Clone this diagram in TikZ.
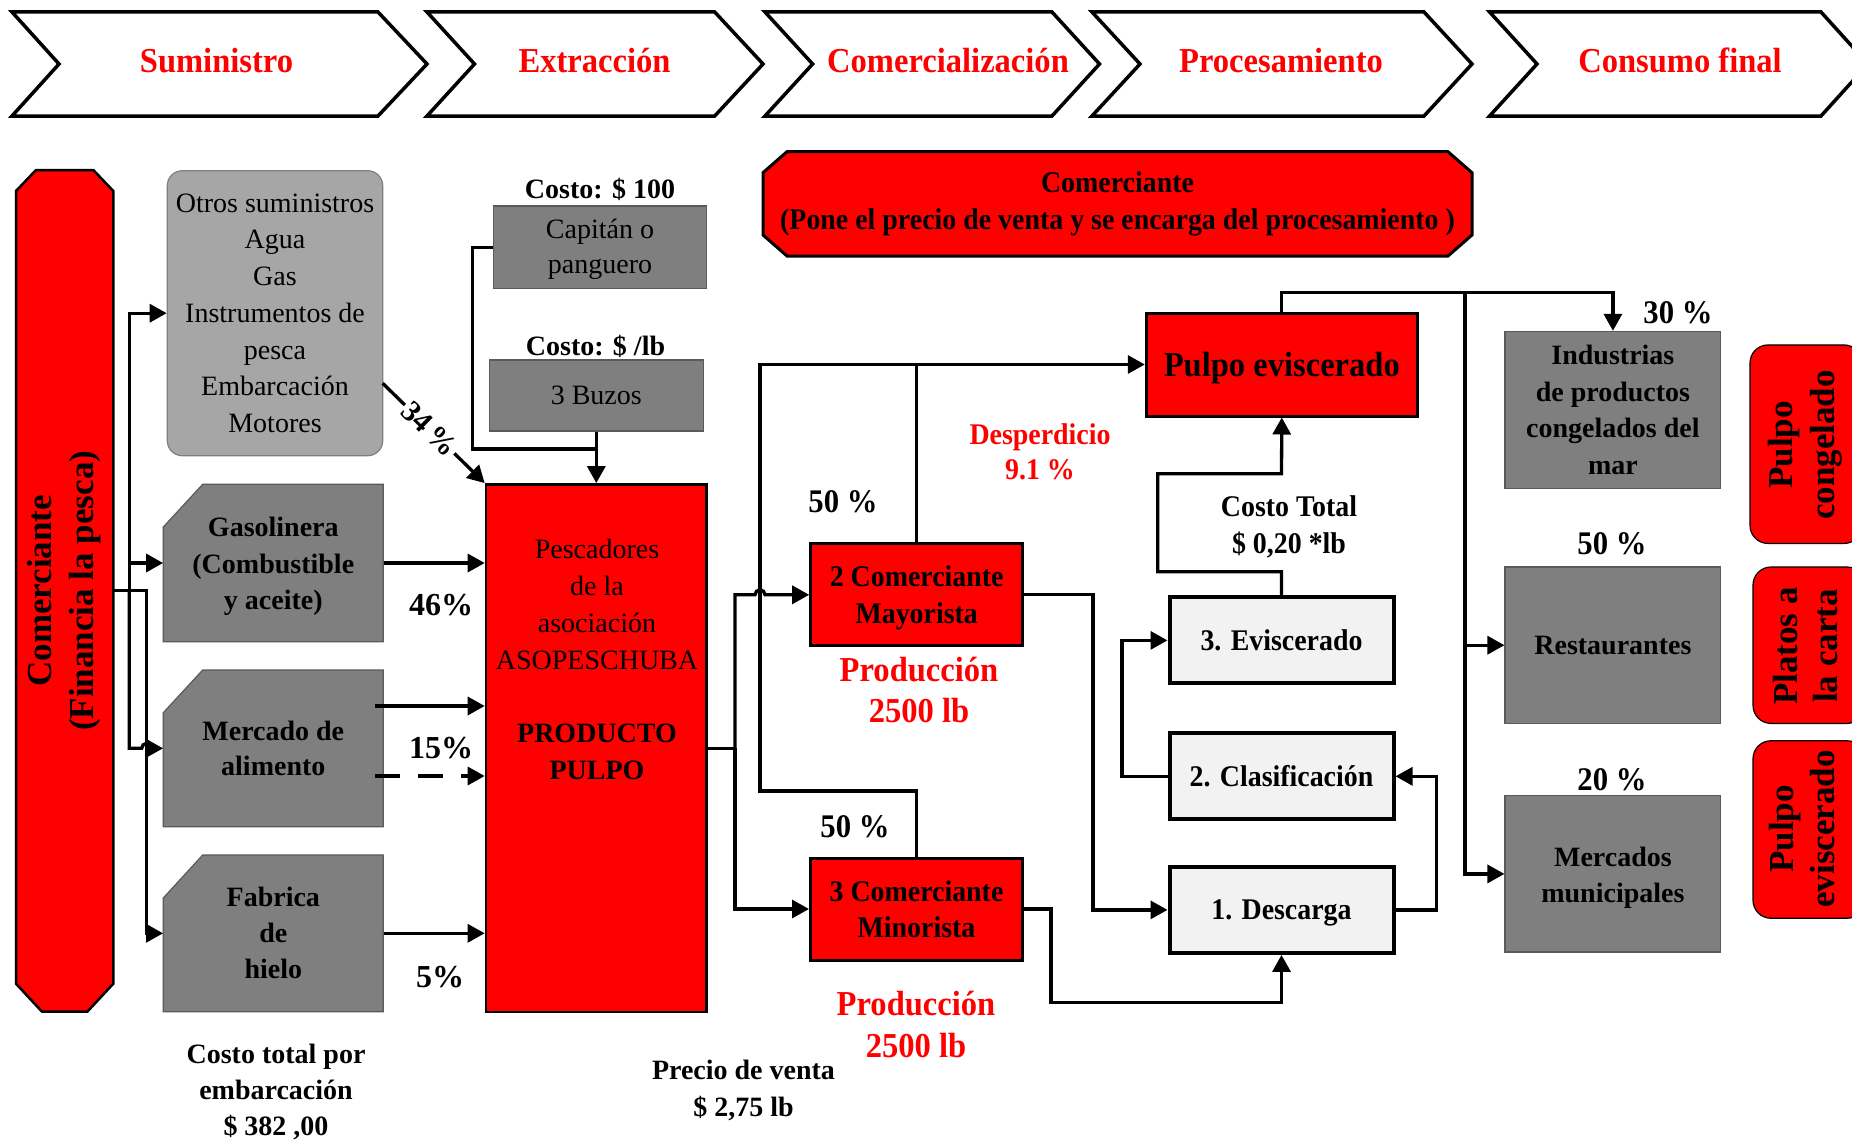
\documentclass[tikz,border=0pt]{standalone}
\usepackage{fontspec}
\setmainfont{Liberation Serif}
\newfontfamily\cnd[FakeStretch=0.93]{Liberation Serif}
\usetikzlibrary{arrows.meta}
\definecolor{dgray}{HTML}{7F7F7F}
\definecolor{lgray}{HTML}{A6A6A6}
\definecolor{pgray}{HTML}{F2F2F2}
\definecolor{rd}{HTML}{FF0000}
\definecolor{bgray}{HTML}{5A5A5A}
\newcommand\fsz[2]{\fontsize{#1pt}{#2pt}\selectfont}
\begin{document}
\begin{tikzpicture}[x=1pt,y=-1pt,
  ln/.style={line width=3.3pt},
  ar/.style={line width=3.3pt,-{Triangle[length=17pt,width=18pt]}},
  chev/.style={draw=black,line width=3.5pt,fill=white},
  gbox/.style={fill=dgray,draw=bgray,line width=1.2pt,inner sep=0pt},
  anchorbox/.style={inner sep=0pt,draw=none},
  rbox/.style={fill=rd,draw=black,line width=3pt,inner sep=0pt},
  pbox/.style={fill=pgray,draw=black,line width=4pt,inner sep=0pt},
  tx/.style={align=center,inner sep=0pt},
  chl/.style={tx,text=rd,font=\cnd\bfseries\fsz{35}{40},anchor=base},
  bt/.style={tx,font=\bfseries\fsz{28}{36.7}},
  rt/.style={tx,font=\fsz{28}{36.7}},
  ct/.style={tx,font=\cnd\bfseries\fsz{30}{36.5}},
  pct/.style={tx,font=\bfseries\fsz{32}{36}},
  cpct/.style={tx,font=\cnd\bfseries\fsz{33}{33}},
  redtx/.style={tx,text=rd,font=\cnd\bfseries\fsz{35}{40.5}},
  sidebox/.style={fill=rd,draw=black,line width=1.2pt,rounded corners=18pt,minimum width=112pt,inner sep=0pt},
  sidetx/.style={tx,rotate=90,font=\bfseries\fsz{35}{41}}
]
\useasboundingbox (0,0) rectangle (1852,1140);
\fill[white] (0,0) rectangle (1852,1140);

% ---------- top chevrons ----------
\draw[chev] (12,12) -- (378,12) -- (427,64) -- (378,116) -- (12,116) -- (59,64) -- cycle;
\draw[chev] (427,12) -- (714.7,12) -- (763,64) -- (714.7,116) -- (427,116) -- (474.5,64) -- cycle;
\draw[chev] (765,12) -- (1052,12) -- (1099.5,64) -- (1052,116) -- (765,116) -- (812.6,64) -- cycle;
\draw[chev] (1092,12) -- (1424,12) -- (1472,64) -- (1424,116) -- (1092,116) -- (1140,64) -- cycle;
\draw[chev] (1489.6,12) -- (1821,12) -- (1868,64) -- (1821,116) -- (1489.6,116) -- (1537,64) -- cycle;
\node[chl] (ch1) at (216.5,73) {Suministro};
\node[chl] (ch2) at (594.5,73) {Extracción};
\node[chl] (ch3) at (948,73) {Comercialización};
\node[chl] (ch4) at (1281,73) {Procesamiento};
\node[chl] (ch5) at (1680,73) {Consumo final};

% ---------- left column ----------
\draw[fill=rd,line width=2.5pt] (36,170) -- (93.3,170) -- (113.3,191) -- (113.3,983.7) -- (87.3,1011.7) -- (42,1011.7) -- (16,983.7) -- (16,191) -- cycle;
\node[anchorbox,minimum width=97.3pt,minimum height=841.7pt] (com) at (64.7,590.8) {};
\node[tx,rotate=90,font=\bfseries\fsz{35}{41.5}] (comtxt) at (64,590.8) {Comerciante\\(Financia la pesca)};

\node[fill=lgray,draw=dgray,line width=1.2pt,rounded corners=15pt,minimum width=215.4pt,minimum height=285pt,rt] (otros) at (275,313.2) {Otros suministros\\Agua\\Gas\\Instrumentos de\\pesca\\Embarcación\\Motores};

\draw[gbox] (202.7,484.3) -- (383.3,484.3) -- (383.3,641.7) -- (163.3,641.7) -- (163.3,527) -- cycle;
\node[anchorbox,minimum width=220pt,minimum height=157.4pt] (gas) at (273.3,563) {};
\node[bt] (gastxt) at (273.3,566.5) {Gasolinera\\(Combustible\\y aceite)};
\draw[gbox] (202.7,670) -- (383.3,670) -- (383.3,826.7) -- (163.3,826.7) -- (163.3,712.7) -- cycle;
\node[anchorbox,minimum width=220pt,minimum height=156.7pt,bt,font=\bfseries\fsz{28}{35}] (mer) at (273.3,748.3) {Mercado de\\alimento};
\draw[gbox] (202.7,855) -- (383.3,855) -- (383.3,1011.7) -- (163.3,1011.7) -- (163.3,898) -- cycle;
\node[anchorbox,minimum width=220pt,minimum height=156.7pt,bt,font=\bfseries\fsz{28}{36}] (fab) at (273.3,933.3) {Fabrica\\de\\hielo};

\node[bt,font=\bfseries\fsz{28}{36}] (ctot) at (276,1091.5) {Costo total por\\embarcación\\\$ 382 ,00};

% ---------- extraction ----------
\node[gbox,minimum width=213.4pt,minimum height=82.3pt] (cap) at (600,247.2) {};
\node[rt,font=\fsz{28}{35}] (captxt) at (600,249.5) {Capitán o\\panguero};
\node[bt] (c100) at (600,189) {Costo: \$ 100};
\node[gbox,minimum width=214pt,minimum height=71pt,rt] (buz) at (596.3,395.5) {3 Buzos};
\node[bt] (clb) at (595.5,346) {Costo: \$ /lb};

\node[fill=rd,draw=black,line width=2.5pt,minimum width=220.7pt,minimum height=527.7pt,inner sep=0pt] (pesc) at (596.3,748.2) {};
\node[tx,font=\fsz{28}{36.7}] (pesctxt) at (597,659.5) {Pescadores\\de la\\asociación\\ASOPESCHUBA\\[36.7pt]{\bfseries PRODUCTO}\\{\bfseries PULPO}};

\node[pct] (p46) at (441,605) {46\%};
\node[pct] (p15) at (441,748) {15\%};
\node[pct] (p5) at (440,977) {5\%};

% left connectors
\coordinate (jl) at (129.3,590.8);
\draw[ar] (com.east) -| (146.7,933.3) -- (fab.west);
\draw[ar] (jl) |- (otros.west);
\draw[ar] (jl) |- (gas.west);
\draw[ar] (jl) -- (129.3,748.3) -- (141.7,748.3) arc[start angle=180,end angle=0,radius=5pt] -- (mer.west);

\draw[ar] (gas.east) -- (gas.east -| pesc.west);
\coordinate (m1) at (375,706);
\draw[ar] (m1) -- (m1 -| pesc.west);
\coordinate (m2) at (375,776);
\draw[ar,dash pattern=on 25pt off 18pt] (m2) -- (m2 -| pesc.west);
\draw[ar] (fab.east) -- (fab.east -| pesc.west);
\coordinate (o1) at (382.7,383.3);
\draw[ar] (o1) -- node[sloped,fill=white,inner sep=2pt,font=\bfseries\fsz{30}{30},pos=0.46] (p34) {34\,\%} (pesc.north west);

\draw[ln] (cap.west) -- (472.7,247.2) -- (472.7,449) -- (596.3,449);
\draw[ar] (buz.south) -- (pesc.north);

% ---------- commercialisation ----------
\node[rbox,minimum width=212pt,minimum height=102pt] (may) at (916.7,594.8) {};
\node[ct] (maytxt) at (916.7,597.8) {2 Comerciante\\Mayorista};
\node[rbox,minimum width=212pt,minimum height=102pt,ct] (min) at (916.5,909) {3 Comerciante\\Minorista};
\node[redtx] (prod1) at (919,690) {Producción\\2500 lb};
\node[redtx,font=\cnd\bfseries\fsz{35}{42}] (prod2) at (916,1024) {Producción\\2500 lb};
\node[cpct] (p50a) at (843,502) {50 \%};
\node[cpct] (p50b) at (855,827) {50 \%};
\node[bt] (prec) at (743.5,1090.5) {Precio de venta\\\$ 2,75 lb};

\draw[fill=rd,line width=3pt] (787,151.7) -- (1448,151.7) -- (1472,172.7) -- (1472,235) -- (1448,256) -- (787,256) -- (763,235) -- (763,172.7) -- cycle;
\node[anchorbox,minimum width=709pt,minimum height=104.3pt,ct] (topc) at (1117.5,203.8) {Comerciante\\(Pone el precio de venta y se encarga del procesamiento )};

% ---------- processing ----------
\node[rbox,minimum width=271pt,minimum height=103pt] (pe) at (1281.8,364.5) {};
\node[tx,font=\cnd\bfseries\fsz{35}{35}] (petxt) at (1281.8,368) {Pulpo eviscerado};
\node[pbox,minimum width=224pt,minimum height=86pt,ct] (evi) at (1281.5,640.4) {3. Eviscerado};
\node[pbox,minimum width=224pt,minimum height=86pt,ct] (cla) at (1281.5,776.3) {2. Clasificación};
\node[pbox,minimum width=224pt,minimum height=86pt] (des) at (1281.5,909.9) {};
\node[ct] (destxt) at (1281.5,913) {1. Descarga};
\node[tx,text=rd,font=\cnd\bfseries\fsz{30}{35}] (desp) at (1040,452) {Desperdicio\\9.1 \%};
\node[ct] (ctt) at (1289,527) {Costo Total\\\$ 0,20 *lb};

\coordinate (jm) at (735,748.2);
\draw[ln] (pesc.east) -- (jm);
\draw[ar] (jm) -- (735,594.8) -- (755,594.8) arc[start angle=180,end angle=0,radius=5pt] -- (may.west);
\draw[ar] (jm) |- (min.west);
\draw[ar] (min.north) -- (916.5,791) -- (760,791) -- (760,364.5) -- (pe.west);
\draw[ln] (may.north) -- (916.7,364.5);
\draw[ar] (may.east) -- (1093,594.8) |- (des.west);
\draw[ar] (min.east) -- (1051,909) |- (1281.5,1002.2) -- (des.south);
\draw[ar] (des.east) -- (1436.3,909.9) |- (cla.east);
\draw[ar] (cla.west) -- (1122,776.3) |- (evi.west);
\draw[ar] (evi.north) -- (1281.5,571.7) -- (1157.8,571.7) -- (1157.8,473.7) -- (1281.5,473.7) -- (pe.south);

% ---------- final consumption ----------
\node[gbox,minimum width=215.7pt,minimum height=157.2pt,bt,font=\bfseries\fsz{28}{36.6}] (ind) at (1612.9,410) {Industrias\\de productos\\congelados del\\mar};
\node[gbox,minimum width=215.7pt,minimum height=156.4pt,bt] (res) at (1612.9,645.2) {Restaurantes};
\node[gbox,minimum width=215.7pt,minimum height=156.3pt] (mm) at (1612.9,873.9) {};
\node[bt,font=\bfseries\fsz{28}{35.7}] (mmtxt) at (1612.9,877.5) {Mercados\\municipales};
\node[cpct] (p30) at (1678,313) {30 \%};
\node[cpct] (p50c) at (1612,544) {50 \%};
\node[cpct] (p20) at (1612,780) {20 \%};

\coordinate (jr) at (1465,292.8);
\draw[ar] (pe.north) -- (1281.8,292.8) -| (ind.north);
\draw[ar] (jr) |- (res.west);
\draw[ar] (jr) |- (mm.west);

\node[sidebox,minimum height=198.5pt] (rb1) at (1806,444.2) {};
\node[sidetx,font=\bfseries\fsz{35}{42.7}] (rb1t) at (1805.3,445) {Pulpo\\congelado};
\node[sidebox,minimum height=156.4pt] (rb2) at (1809,645.2) {};
\node[sidetx,font=\bfseries\fsz{35}{40}] (rb2t) at (1806,646) {Platos a\\la carta};
\node[sidebox,minimum height=177.5pt] (rb3) at (1809,829.5) {};
\node[sidetx,font=\bfseries\fsz{35}{41}] (rb3t) at (1802,829) {Pulpo\\eviscerado};
\end{tikzpicture}
\end{document}
